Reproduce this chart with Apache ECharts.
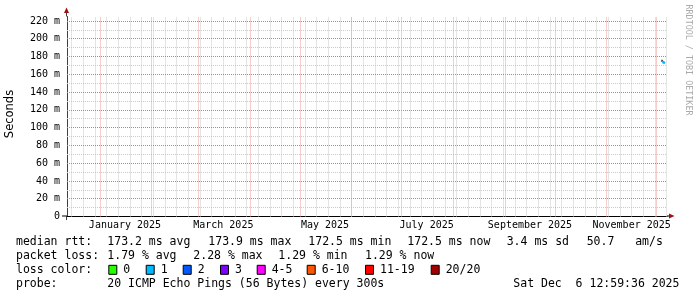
<!DOCTYPE html>
<html><head><meta charset="utf-8">
<script src="https://cdn.jsdelivr.net/npm/echarts@6/dist/echarts.min.js"></script>
<style>html,body{margin:0;padding:0;background:#fff}#c{width:697px;height:297px}</style>
</head><body><div id="c"></div>
<script>
// ---------------- data ----------------
const rangeStart = '2024-12-12T05:00:00Z';
const rangeDays = 360;
const monthStarts = ['2025-01-01','2025-02-01','2025-03-01','2025-04-01','2025-05-01','2025-06-01',
                     '2025-07-01','2025-08-01','2025-09-01','2025-10-01','2025-11-01','2025-12-01'];
const monthLabels = ['January 2025','March 2025','May 2025','July 2025','September 2025','November 2025'];
const monthLabelDates = ['2025-01-16','2025-03-16','2025-05-16','2025-07-16','2025-09-16','2025-11-16'];
const yMax = 225;
const yMajor = 20;
const yMinor = 10;
const medianTimes = ['2025-12-04T12:00:00Z','2025-12-05T06:00:00Z','2025-12-06T00:00:00Z'];
const medianValues = [173.9, 173.2, 172.5];
const smokeTimes = ['2025-12-04T06:00:00Z'];
const smokeValues = [175.2];
const rttStats = ['173.2 ms avg','173.9 ms max','172.5 ms min','172.5 ms now','3.4 ms sd','50.7   am/s'];
const lossStats = ['1.79 % avg','2.28 % max','1.29 % min','1.29 % now'];
const lossLabels = ['0','1','2','3','4-5','6-10','11-19','20/20'];
const lossColors = ['#26ff00','#00b8ff','#0059ff','#7e00ff','#ff00ff','#ff5500','#ff0000','#a00000'];
const probeText = '20 ICMP Echo Pings (56 Bytes) every 300s';
const dateText = 'Sat Dec  6 12:59:36 2025';
const yTitle = 'Seconds';
const watermark = 'RRDTOOL / TOBI OETIKER';

// ---------------- layout ----------------
const G = {left:67, top:16.5, width:600, height:200};
const MONO = 'DejaVu Sans Mono';
const rttX = [107.3, 208.3, 308.3, 407.3, 506.7, 586.7];
const lossX = [107.3, 193.3, 278.3, 365];
const boxX = [108.3, 145.7, 182.7, 220, 256.7, 306.7, 365, 430.7];
const rowY = [242, 256, 269.8, 283.8];
const legFont = '11.5px "' + MONO + '"';

const DAY = 86400000;
const t0 = Date.parse(rangeStart);
const t1 = t0 + rangeDays * DAY;
const monthT = monthStarts.map(s => Date.parse(s));
const labelT = monthLabelDates.map(s => Date.parse(s));
const weekly = [];
let s = Date.UTC(new Date(t0).getUTCFullYear(), new Date(t0).getUTCMonth(), new Date(t0).getUTCDate());
while (new Date(s).getUTCDay() !== 0 || s < t0) s += DAY;
for (; s < t1; s += 7 * DAY) weekly.push(s);
const minorY = [], majorY = [];
for (let v = yMinor; v < yMax; v += yMinor) (v % yMajor === 0 ? majorY : minorY).push(v);

const GRAY = '#cacaca', RED = '#eb9c9c', HRED = '#e07474', ARROW = '#a01010';
const y0 = G.top + G.height, x0 = G.left, x1 = G.left + G.width;

const graphics = [];
// axis extensions and arrows
graphics.push({type:'line', shape:{x1:x0 - 0.5, y1:G.top, x2:x0 - 0.5, y2:12.5}, style:{stroke:'#404040', lineWidth:1}, silent:true});
graphics.push({type:'line', shape:{x1:x0 - 0.5, y1:y0, x2:x0 - 0.5, y2:y0 + 3.5}, style:{stroke:'#404040', lineWidth:1}, silent:true});
graphics.push({type:'polygon', shape:{points:[[x0 - 3, 13], [x0 + 2, 13], [x0 - 0.5, 7.5]]}, style:{fill:ARROW}, silent:true});
graphics.push({type:'line', shape:{x1:62, y1:y0 - 0.5, x2:x0, y2:y0 - 0.5}, style:{stroke:'#000', lineWidth:1}, silent:true});
graphics.push({type:'line', shape:{x1:x1, y1:y0 - 0.5, x2:669, y2:y0 - 0.5}, style:{stroke:'#000', lineWidth:1}, silent:true});
graphics.push({type:'polygon', shape:{points:[[669, y0 - 3], [669, y0 + 2], [674.5, y0 - 0.5]]}, style:{fill:ARROW}, silent:true});
// titles
graphics.push({type:'text', x:10.5, y:114, rotation:Math.PI / 2,
  style:{text:yTitle, font:'11.5px "DejaVu Sans"', fill:'#000', align:'center', verticalAlign:'middle'}, silent:true});
graphics.push({type:'text', x:688, y:60, rotation:-Math.PI / 2,
  style:{text:watermark, font:'8.4px "' + MONO + '"', fill:'#aaaaaa', align:'center', verticalAlign:'middle'}, silent:true});
// legend rows
function txt(x, y, t) {
  graphics.push({type:'text', x:x, y:y, style:{text:t, font:legFont, fill:'#000', align:'left', verticalAlign:'middle'}, silent:true});
}
txt(16, rowY[0], 'median rtt:');
rttStats.forEach((t, i) => txt(rttX[i], rowY[0], t));
txt(16, rowY[1], 'packet loss:');
lossStats.forEach((t, i) => txt(lossX[i], rowY[1], t));
txt(16, rowY[2], 'loss color:');
lossLabels.forEach((t, i) => {
  graphics.push({type:'rect', shape:{x:boxX[i] + 0.5, y:rowY[2] - 4.5, width:8, height:9},
    style:{fill:lossColors[i], stroke:'#000', lineWidth:1}, silent:true});
  txt(boxX[i] + 15, rowY[2], t);
});
txt(16, rowY[3], 'probe:');
txt(107.3, rowY[3], probeText);
txt(513.3, rowY[3], dateText);

const gridLines = [];
minorY.forEach(v => gridLines.push({yAxis:v, lineStyle:{color:GRAY, type:[1, 1], width:1}}));
weekly.forEach(t => gridLines.push({xAxis:t, lineStyle:{color:GRAY, type:[1, 1], width:1}}));
majorY.forEach(v => gridLines.push({yAxis:v, lineStyle:{color:HRED, type:[1, 1], width:1}}));
monthT.forEach(t => gridLines.push({xAxis:t, lineStyle:{color:RED, type:[1, 1], width:1}}));

const chart = echarts.init(document.getElementById('c'), null, {renderer:'canvas'});
chart.setOption({
  animation:false,
  backgroundColor:'#fff',
  grid:{left:G.left, top:G.top, width:G.width, height:G.height, containLabel:false},
  xAxis:{type:'value', min:t0, max:t1, z:4,
    axisLine:{show:true, onZero:false, lineStyle:{color:'#000', width:1}},
    axisTick:{show:false}, splitLine:{show:false},
    axisLabel:{customValues:labelT, formatter:v => { const i = labelT.indexOf(v); return i >= 0 ? monthLabels[i] : ''; },
      fontFamily:MONO, fontSize:10, color:'#000', margin:4}},
  yAxis:{type:'value', min:0, max:yMax, interval:yMajor, z:3,
    axisLine:{show:true, lineStyle:{color:'#404040', width:1}}, axisTick:{show:false},
    axisLabel:{formatter:v => v === 0 ? '0' : v + ' m', showMaxLabel:false, fontFamily:MONO, fontSize:10, color:'#000', margin:7},
    splitLine:{show:false}},
  series:[
    {type:'line', data:[], z:1, silent:true,
      markLine:{symbol:['none', 'none'], silent:true, animation:false, label:{show:false}, emphasis:{disabled:true}, data:gridLines}},
    {type:'scatter', data:smokeTimes.map((t, i) => [Date.parse(t), smokeValues[i]]), symbol:'rect', symbolSize:2,
      itemStyle:{color:'#303030'}, z:5, silent:true},
    {type:'line', data:medianTimes.map((t, i) => [Date.parse(t), medianValues[i]]), symbol:'none',
      lineStyle:{color:'#00b8ff', width:2.5}, z:6, silent:true}
  ],
  graphic:graphics
});
</script></body></html>
